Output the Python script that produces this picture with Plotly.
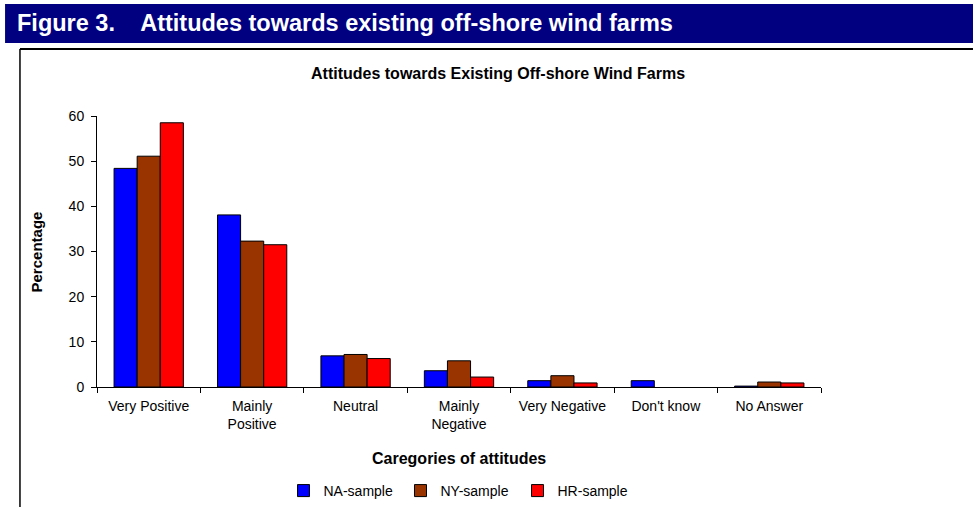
import plotly.graph_objects as go

categories = ["Very Positive", "Mainly<br>Positive", "Neutral", "Mainly<br>Negative",
              "Very Negative", "Don't know", "No Answer"]
na_sample = [48.4, 38.1, 6.9, 3.6, 1.4, 1.4, 0.2]
ny_sample = [51.1, 32.3, 7.2, 5.8, 2.5, None, 1.1]
hr_sample = [58.5, 31.5, 6.3, 2.2, 0.9, None, 0.9]
y_ticks = [0, 10, 20, 30, 40, 50, 60]

COLORS = {"NA-sample": "#0000FF", "NY-sample": "#993300", "HR-sample": "#FF0000"}
FONT = "Liberation Sans, Arial, sans-serif"

fig = go.Figure()
for name, vals in [("NA-sample", na_sample), ("NY-sample", ny_sample), ("HR-sample", hr_sample)]:
    fig.add_trace(go.Bar(
        x=categories, y=vals, name=name,
        marker=dict(color=COLORS[name], line=dict(color="black", width=1)),
    ))

fig.update_layout(
    width=973, height=507,
    paper_bgcolor="white", plot_bgcolor="white",
    margin=dict(l=97, r=152, t=116, b=120),
    font=dict(family=FONT, size=14, color="black"),
    barmode="group", bargap=0.33, bargroupgap=0,
    showlegend=True,
    legend=dict(
        orientation="h", xref="paper", yref="container",
        xanchor="center", x=0.5, yanchor="middle", y=0.0316,
        font=dict(size=14), itemwidth=30, entrywidth=72, tracegroupgap=0,
    ),
)
fig.update_xaxes(
    showline=True, linecolor="black", linewidth=1,
    ticks="outside", tickson="boundaries", ticklen=5, tickcolor="black",
    showgrid=False, ticklabelstandoff=6, automargin=False,
)
fig.update_yaxes(
    range=[0, 60], tickvals=y_ticks, showline=True, linecolor="black", linewidth=1,
    ticks="outside", ticklen=5, tickcolor="black", showgrid=False, zeroline=False,
    ticklabelstandoff=4, automargin=False,
)

# header bar and frame
fig.add_shape(type="rect", xref="paper", yref="paper", x0=-0.127, x1=1.22,
              y0=1.2694, y1=1.4133, fillcolor="#000080", line=dict(width=0), layer="below")
fig.add_shape(type="line", xref="paper", yref="paper", x0=-0.1064, x1=1.22,
              y0=1.2472, y1=1.2472, line=dict(color="black", width=2))
fig.add_shape(type="line", xref="paper", yref="paper", x0=-0.1064, x1=-0.1064,
              y0=1.2472, y1=-0.45, line=dict(color="black", width=1.5))

fig.add_annotation(text="Figure 3.\u00a0\u00a0\u00a0 Attitudes towards existing off-shore wind farms",
                   xref="paper", yref="paper", x=-0.113, y=1.343, xanchor="left", yanchor="middle",
                   showarrow=False, font=dict(size=23.5, color="white", family=FONT, weight="bold"))
fig.add_annotation(text="Attitudes towards Existing Off-shore Wind Farms",
                   xref="paper", yref="paper", x=0.554, y=1.155, xanchor="center", yanchor="middle",
                   showarrow=False, font=dict(size=16, family=FONT, weight="bold"))
fig.add_annotation(text="Caregories of attitudes",
                   xref="paper", yref="paper", x=0.5, y=-0.262, xanchor="center", yanchor="middle",
                   showarrow=False, font=dict(size=16, family=FONT, weight="bold"))
fig.add_annotation(text="Percentage", textangle=-90,
                   xref="paper", yref="paper", x=-0.0829, y=0.5, xanchor="center", yanchor="middle",
                   showarrow=False, font=dict(size=15, family=FONT, weight="bold"))

fig.write_html("out.html", config={"displayModeBar": False},
               post_script="document.body.style.margin='0';")
